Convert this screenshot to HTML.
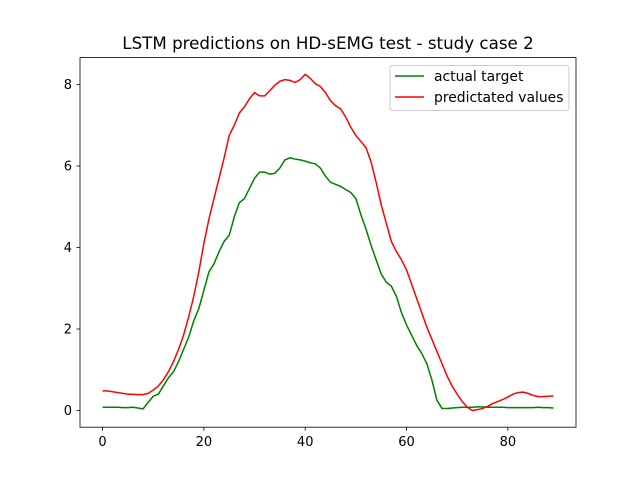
<!DOCTYPE html>
<html><head><meta charset="utf-8"><style>body{margin:0;background:#fff}svg{display:block;font-family:"DejaVu Sans","Liberation Sans",sans-serif}</style></head>
<body>
<svg id="chart" width="640" height="480">
<rect width="640" height="480" fill="#fff"/>
<text x="328" y="49" text-anchor="middle" font-size="16.7">LSTM predictions on HD-sEMG test - study case 2</text>
<g id="axes"></g>
</svg>
<script>
const xTicks=[0,20,40,60,80];
const yTicks=[0,2,4,6,8];
const actualTarget=[0.08,0.08,0.08,0.08,0.07,0.07,0.08,0.06,0.04,0.2,0.35,0.4,0.6,0.8,0.95,1.2,1.5,1.8,2.2,2.5,2.95,3.4,3.6,3.9,4.15,4.3,4.75,5.1,5.2,5.45,5.7,5.85,5.85,5.8,5.82,5.95,6.15,6.2,6.17,6.15,6.12,6.08,6.05,5.95,5.75,5.6,5.55,5.5,5.42,5.35,5.2,4.8,4.45,4.05,3.7,3.35,3.15,3.05,2.8,2.4,2.1,1.85,1.6,1.4,1.15,0.75,0.25,0.05,0.05,0.06,0.07,0.08,0.08,0.08,0.09,0.09,0.08,0.08,0.08,0.08,0.07,0.07,0.07,0.07,0.07,0.07,0.08,0.07,0.07,0.06];
const predictedValues=[0.48,0.48,0.46,0.44,0.42,0.4,0.4,0.39,0.39,0.42,0.5,0.6,0.75,0.95,1.2,1.5,1.85,2.3,2.8,3.4,4.1,4.7,5.2,5.7,6.2,6.75,7.0,7.3,7.45,7.65,7.8,7.72,7.72,7.85,7.98,8.08,8.12,8.1,8.05,8.12,8.25,8.15,8.02,7.95,7.8,7.6,7.48,7.4,7.2,6.95,6.75,6.6,6.45,6.1,5.6,5.05,4.6,4.15,3.9,3.7,3.45,3.1,2.75,2.4,2.05,1.75,1.45,1.15,0.85,0.6,0.4,0.22,0.08,0.0,0.02,0.05,0.1,0.17,0.22,0.27,0.33,0.4,0.44,0.45,0.42,0.37,0.34,0.34,0.35,0.36];
const L=80,R=576,T=57.6,B=427.2;
const xmin=-4.45,xmax=93.45,ymin=-0.41,ymax=8.66;
const X=v=>L+(v-xmin)/(xmax-xmin)*(R-L);
const Y=v=>B-(v-ymin)/(ymax-ymin)*(B-T);
const NS='http://www.w3.org/2000/svg';
const g=document.getElementById('axes');
function mk(t,a){const e=document.createElementNS(NS,t);for(const k in a)e.setAttribute(k,a[k]);g.appendChild(e);return e;}
function line(data,color,name){
  const p=mk('polyline',{points:data.map((v,i)=>X(i)+','+Y(v)).join(' '),fill:'none',stroke:color,'stroke-width':1.5,'stroke-linejoin':'round'});
  
  
}
line(actualTarget,'#008000','actual-target-line');
line(predictedValues,'#ff0000','predicted-values-line');
const fr=mk('rect',{x:L,y:T,width:R-L,height:B-T,fill:'none',stroke:'#000','stroke-width':0.8});


xTicks.forEach(v=>{
  const tk=mk('line',{x1:X(v),x2:X(v),y1:B,y2:B+3.5,stroke:'#000','stroke-width':0.8});
  
  
  const t=mk('text',{x:X(v),y:B+19,'text-anchor':'middle','font-size':13});
  t.textContent=v;
  
  
});
yTicks.forEach(v=>{
  const tk=mk('line',{x1:L-3.5,x2:L,y1:Y(v),y2:Y(v),stroke:'#000','stroke-width':0.8});
  
  
  const t=mk('text',{x:L-8,y:Y(v)+4.5,'text-anchor':'end','font-size':13});
  t.textContent=v;
  
  
});
const lg=mk('rect',{x:390,y:65.5,width:179,height:45,rx:2,fill:'#fff','fill-opacity':0.8,stroke:'#ccc','stroke-width':1});


[['actual target','#008000',76],['predictated values','#ff0000',97]].forEach(([s,c,y])=>{
  const l=mk('line',{x1:395,x2:424,y1:y,y2:y,stroke:c,'stroke-width':1.5});
  
  
  const t=mk('text',{x:434,y:y+5,'font-size':13.9});
  t.textContent=s;
  
  
});
</script>
</body></html>
